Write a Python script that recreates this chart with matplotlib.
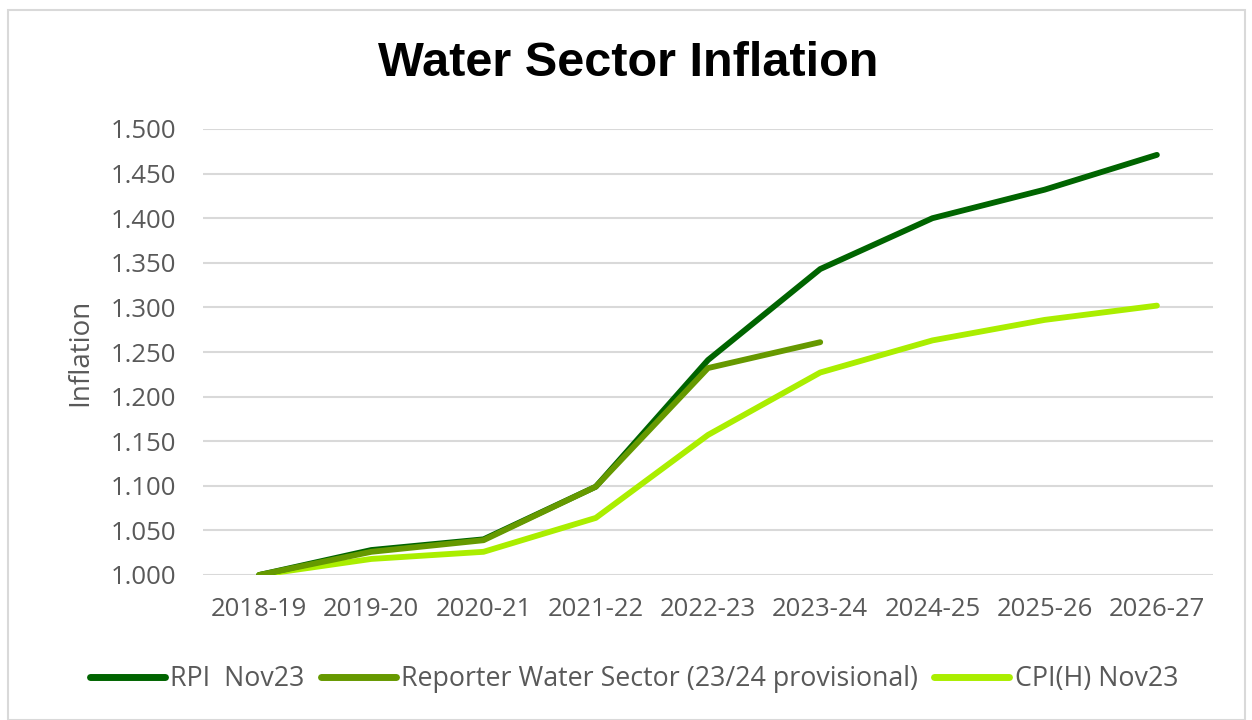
import matplotlib
matplotlib.use("Agg")
import matplotlib.pyplot as plt
from matplotlib.patches import Rectangle

categories = ["2018-19", "2019-20", "2020-21", "2021-22", "2022-23",
              "2023-24", "2024-25", "2025-26", "2026-27"]
rpi = [1.000, 1.028, 1.040, 1.099, 1.241, 1.343, 1.400, 1.432, 1.471]
reporter = [1.000, 1.026, 1.039, 1.099, 1.232, 1.261]
cpih = [1.000, 1.018, 1.026, 1.064, 1.157, 1.227, 1.263, 1.286, 1.302]
yticks = [1.000, 1.050, 1.100, 1.150, 1.200, 1.250, 1.300, 1.350, 1.400, 1.450, 1.500]

fig = plt.figure(figsize=(12.52, 7.2), dpi=100)
ax = fig.add_axes([203/1252, 1-575/720, (1213-203)/1252, (575-129)/720])

fig.patches.append(Rectangle((8/1252, 0), (1245-8)/1252, (720-10)/720,
                             transform=fig.transFigure, fill=False,
                             edgecolor="#d9d9d9", linewidth=1.5))

x = list(range(len(categories)))
lw = 4.2
ax.plot(x, rpi, color="#006400", lw=lw, solid_capstyle="round", solid_joinstyle="round",
        label="RPI  Nov23", zorder=3)
ax.plot(x[:len(reporter)], reporter, color="#669900", lw=lw, solid_capstyle="round",
        solid_joinstyle="round", label="Reporter Water Sector (23/24 provisional)", zorder=4)
ax.plot(x, cpih, color="#AAEE00", lw=lw, solid_capstyle="round", solid_joinstyle="round",
        label="CPI(H) Nov23", zorder=2)

ax.set_xlim(-0.5, 8.5)
ax.set_ylim(1.0, 1.5)
ax.set_yticks(yticks)
ax.set_yticklabels([f"{v:.3f}" for v in yticks])
ax.set_xticks(x)
ax.set_xticklabels(categories)
ax.tick_params(length=0, labelsize=18.5, labelcolor="#595959")
ax.tick_params(axis="y", pad=19)
ax.tick_params(axis="x", pad=16)
for lab in ax.get_xticklabels() + ax.get_yticklabels():
    lab.set_family("Open Sans")
ax.grid(axis="y", color="#d9d9d9", lw=1.5)
ax.set_axisbelow(True)
for s in ax.spines.values():
    s.set_visible(False)

ax.set_ylabel("Inflation", fontsize=20, color="#595959", family="Open Sans", labelpad=12)
fig.text(628/1252, 1-63/720, "Water Sector Inflation", ha="center", va="center",
         fontsize=35, fontweight="bold", family="Liberation Sans")

leg = fig.legend(loc="center", bbox_to_anchor=(634/1252, 1-679/720), ncol=3, frameon=False,
                 prop={"family": "Open Sans", "size": 19.3}, handlelength=2.8,
                 columnspacing=0.6, handletextpad=0.2)
for line in leg.get_lines():
    line.set_linewidth(5)
    line.set_solid_capstyle("round")
for t in leg.get_texts():
    t.set_color("#595959")

fig.savefig("out.png", dpi=100)
